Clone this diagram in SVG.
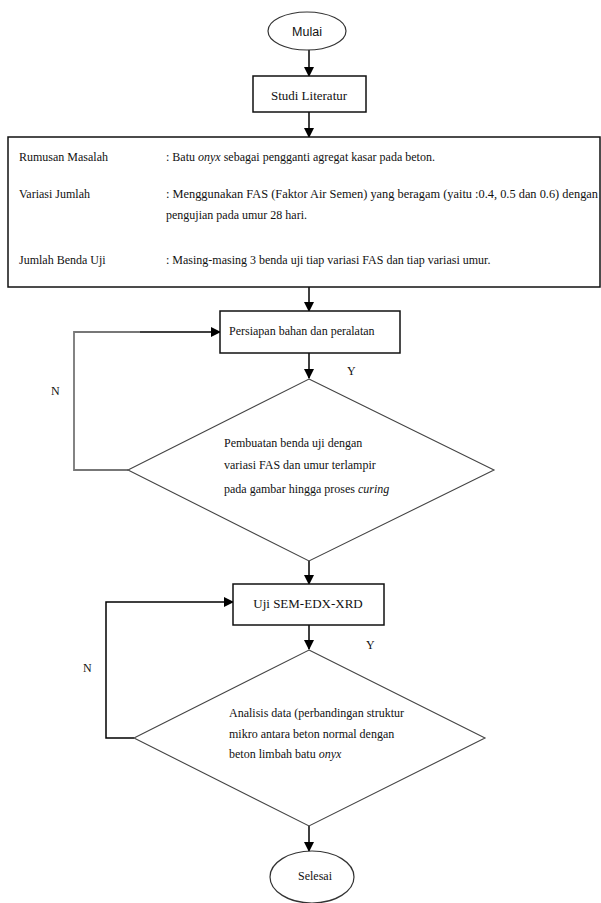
<svg xmlns="http://www.w3.org/2000/svg" width="601" height="903" viewBox="0 0 601 903">
<defs>
<marker id="arr" markerUnits="userSpaceOnUse" markerWidth="10" markerHeight="12" refX="9" refY="5" orient="auto">
<path d="M0,0 L10,5 L0,10 Z" fill="#000"/>
</marker>
<style>
.t{font-family:"Liberation Serif","Times New Roman",serif;font-size:12px;fill:#111}
.c{text-anchor:middle}
.box{fill:#fff;stroke:#111;stroke-width:1.5}
.dia{fill:#fff;stroke:#444;stroke-width:1.1}
.ell{fill:#fff;stroke:#333;stroke-width:1.2}
.ln{fill:none;stroke:#000;stroke-width:1.5}
.lp{fill:none;stroke:#777;stroke-width:1.8}
</style>
</defs>
<rect width="601" height="903" fill="#fff"/>
<g id="connectors">
<line class="ln" x1="309" y1="50" x2="309" y2="76" marker-end="url(#arr)"/>
<line class="ln" x1="309" y1="112" x2="309" y2="137" marker-end="url(#arr)"/>
<line class="ln" x1="309" y1="287" x2="309" y2="311" marker-end="url(#arr)"/>
<line class="ln" x1="309" y1="353" x2="309" y2="378" marker-end="url(#arr)"/>
<polyline class="lp" points="128,470 74,470 74,332 140,332"/>
<line class="ln" x1="140" y1="332" x2="220" y2="332" marker-end="url(#arr)"/>
<line class="ln" x1="309" y1="561" x2="309" y2="584" marker-end="url(#arr)"/>
<line class="ln" x1="309" y1="625" x2="309" y2="649" marker-end="url(#arr)"/>
<polyline class="ln" points="134,738 106,738 106,602 233,602" marker-end="url(#arr)"/>
<line class="ln" x1="309" y1="826" x2="309" y2="851" marker-end="url(#arr)"/>
<text class="t" x="347" y="375">Y</text>
<text class="t" x="51" y="395">N</text>
<text class="t" x="366" y="649">Y</text>
<text class="t" x="83" y="672">N</text>
</g>
<g id="mulai">
<ellipse class="ell" cx="307" cy="31" rx="39" ry="19"/>
<text x="307" y="36" class="c" style="font-family:'Liberation Sans',Arial,sans-serif;font-size:12.5px;fill:#111">Mulai</text>
</g>
<g id="studi-literatur">
<rect class="box" x="253" y="76" width="113" height="36"/>
<text class="t c" x="309" y="100" style="font-size:13px">Studi Literatur</text>
</g>
<g id="rumusan">
<rect class="box" x="8" y="137" width="592" height="150"/>
<text class="t" x="19" y="161">Rumusan Masalah</text>
<text class="t" x="166" y="161">: Batu <tspan font-style="italic">onyx</tspan> sebagai pengganti agregat kasar pada beton.</text>
<text class="t" x="19" y="198">Variasi Jumlah</text>
<text class="t" x="166" y="198" textLength="432" lengthAdjust="spacingAndGlyphs">: Menggunakan FAS (Faktor Air Semen) yang beragam (yaitu :0.4, 0.5 dan 0.6) dengan</text>
<text class="t" x="166" y="219">pengujian pada umur 28 hari.</text>
<text class="t" x="19" y="264">Jumlah Benda Uji</text>
<text class="t" x="166" y="264">: Masing-masing 3 benda uji tiap variasi FAS dan tiap variasi umur.</text>
</g>
<g id="persiapan">
<rect class="box" x="220" y="311" width="180" height="42"/>
<text class="t" x="229" y="335">Persiapan bahan dan peralatan</text>
</g>
<g id="pembuatan">
<polygon class="dia" points="309,379 494,470 309,561 128,470"/>
<text class="t" x="224" y="447">Pembuatan benda uji dengan</text>
<text class="t" x="224" y="469">variasi FAS dan umur terlampir</text>
<text class="t" x="224" y="493">pada gambar hingga proses <tspan font-style="italic">curing</tspan></text>
</g>
<g id="uji-sem">
<rect class="box" x="233" y="584" width="151" height="41"/>
<text class="t c" x="308" y="608" style="font-size:13px">Uji SEM-EDX-XRD</text>
</g>
<g id="analisis">
<polygon class="dia" points="309,650 485,738 309,826 134,738"/>
<text class="t" x="229" y="717">Analisis data (perbandingan struktur</text>
<text class="t" x="229" y="738">mikro antara beton normal dengan</text>
<text class="t" x="229" y="758">beton limbah batu <tspan font-style="italic">onyx</tspan></text>
</g>
<g id="selesai">
<ellipse class="ell" cx="312" cy="877" rx="42" ry="26"/>
<text class="t c" x="315" y="880">Selesai</text>
</g>
</svg>
